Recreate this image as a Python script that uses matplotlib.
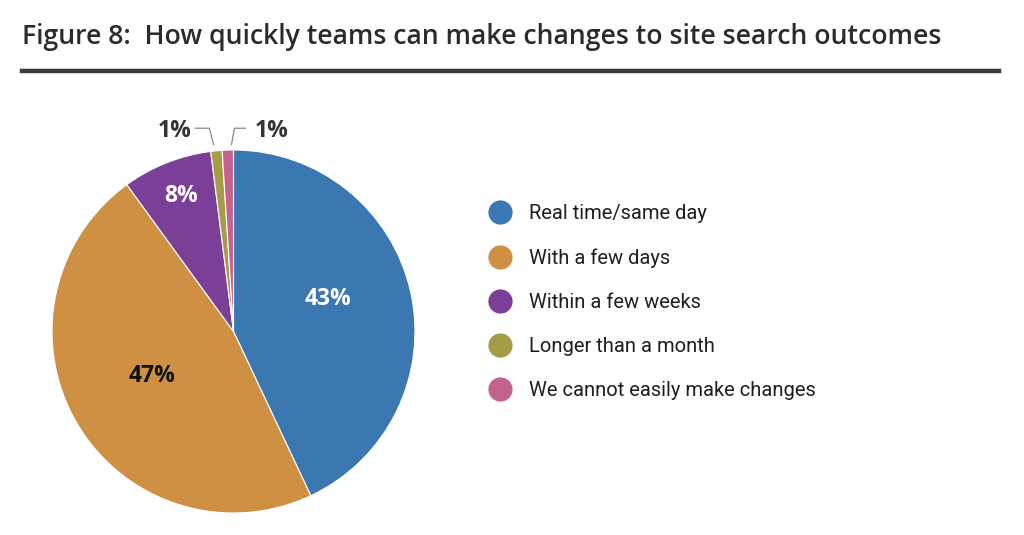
import matplotlib
matplotlib.use('Agg')
import matplotlib.pyplot as plt
from matplotlib.lines import Line2D

categories = ['Real time/same day', 'With a few days', 'Within a few weeks',
              'Longer than a month', 'We cannot easily make changes']
shares = [43, 47, 8, 1, 1]
colors = ['#3b77b0', '#cf9043', '#7b3f97', '#a59c4a', '#c4628e']
title = 'Figure 8:  How quickly teams can make changes to site search outcomes'

fig = plt.figure(figsize=(10.24, 5.35), dpi=100)
fig.patch.set_facecolor('white')

fig.text(22 / 1024, 1 - 37 / 535, title, fontsize=19.2, fontweight='semibold',
         family='Open Sans', color='#2b2b2b', va='center', ha='left')
fig.add_artist(Line2D([22 / 1024, 999 / 1024], [1 - 71 / 535, 1 - 71 / 535],
                      color='#3a3a3a', lw=3.2))

ax = fig.add_axes([52 / 1024, 22 / 535, 363 / 1024, 363 / 535])
wedges, _ = ax.pie(shares, colors=colors, startangle=90, counterclock=False,
                   wedgeprops=dict(edgecolor='white', linewidth=0.8))
ax.set_aspect('equal')
ax.set_xlim(-1, 1)
ax.set_ylim(-1, 1)

# labels inside the big slices
inside = [(0, 0.52, 0.18, 'white'), (1, -0.45, -0.245, '#111111'),
          (2, -0.29, 0.745, 'white')]
for i, x, y, c in inside:
    ax.text(x, y, f'{shares[i]}%', ha='center', va='center', fontsize=16.5,
            fontweight='bold', family='Open Sans', color=c)

# outside labels with leader lines
ax.plot([-0.21, -0.133, -0.11], [1.12, 1.12, 1.03], color='#888888', lw=0.9,
        clip_on=False)
ax.plot([-0.011, 0.005, 0.066], [1.03, 1.12, 1.12], color='#888888', lw=0.9,
        clip_on=False)
ax.text(-0.326, 1.105, f'{shares[3]}%', ha='center', va='center', fontsize=16.5,
        fontweight='bold', family='Open Sans', color='#333333', clip_on=False)
ax.text(0.21, 1.105, f'{shares[4]}%', ha='center', va='center', fontsize=16.5,
        fontweight='bold', family='Open Sans', color='#333333', clip_on=False)

handles = [Line2D([], [], marker='o', linestyle='none', markersize=18,
                  markerfacecolor=c, markeredgecolor='white', markeredgewidth=0.5)
           for c in colors]
leg = fig.legend(handles, categories, loc='upper left',
                 bbox_to_anchor=(478 / 1024, 1 - 194 / 535), frameon=False,
                 labelspacing=1.25, handlelength=1.2, handletextpad=0.85,
                 borderpad=0, prop=dict(family='Roboto', size=14.5))
for t in leg.get_texts():
    t.set_color('#1e1e1e')

fig.savefig('out.png', dpi=100, facecolor='white')
